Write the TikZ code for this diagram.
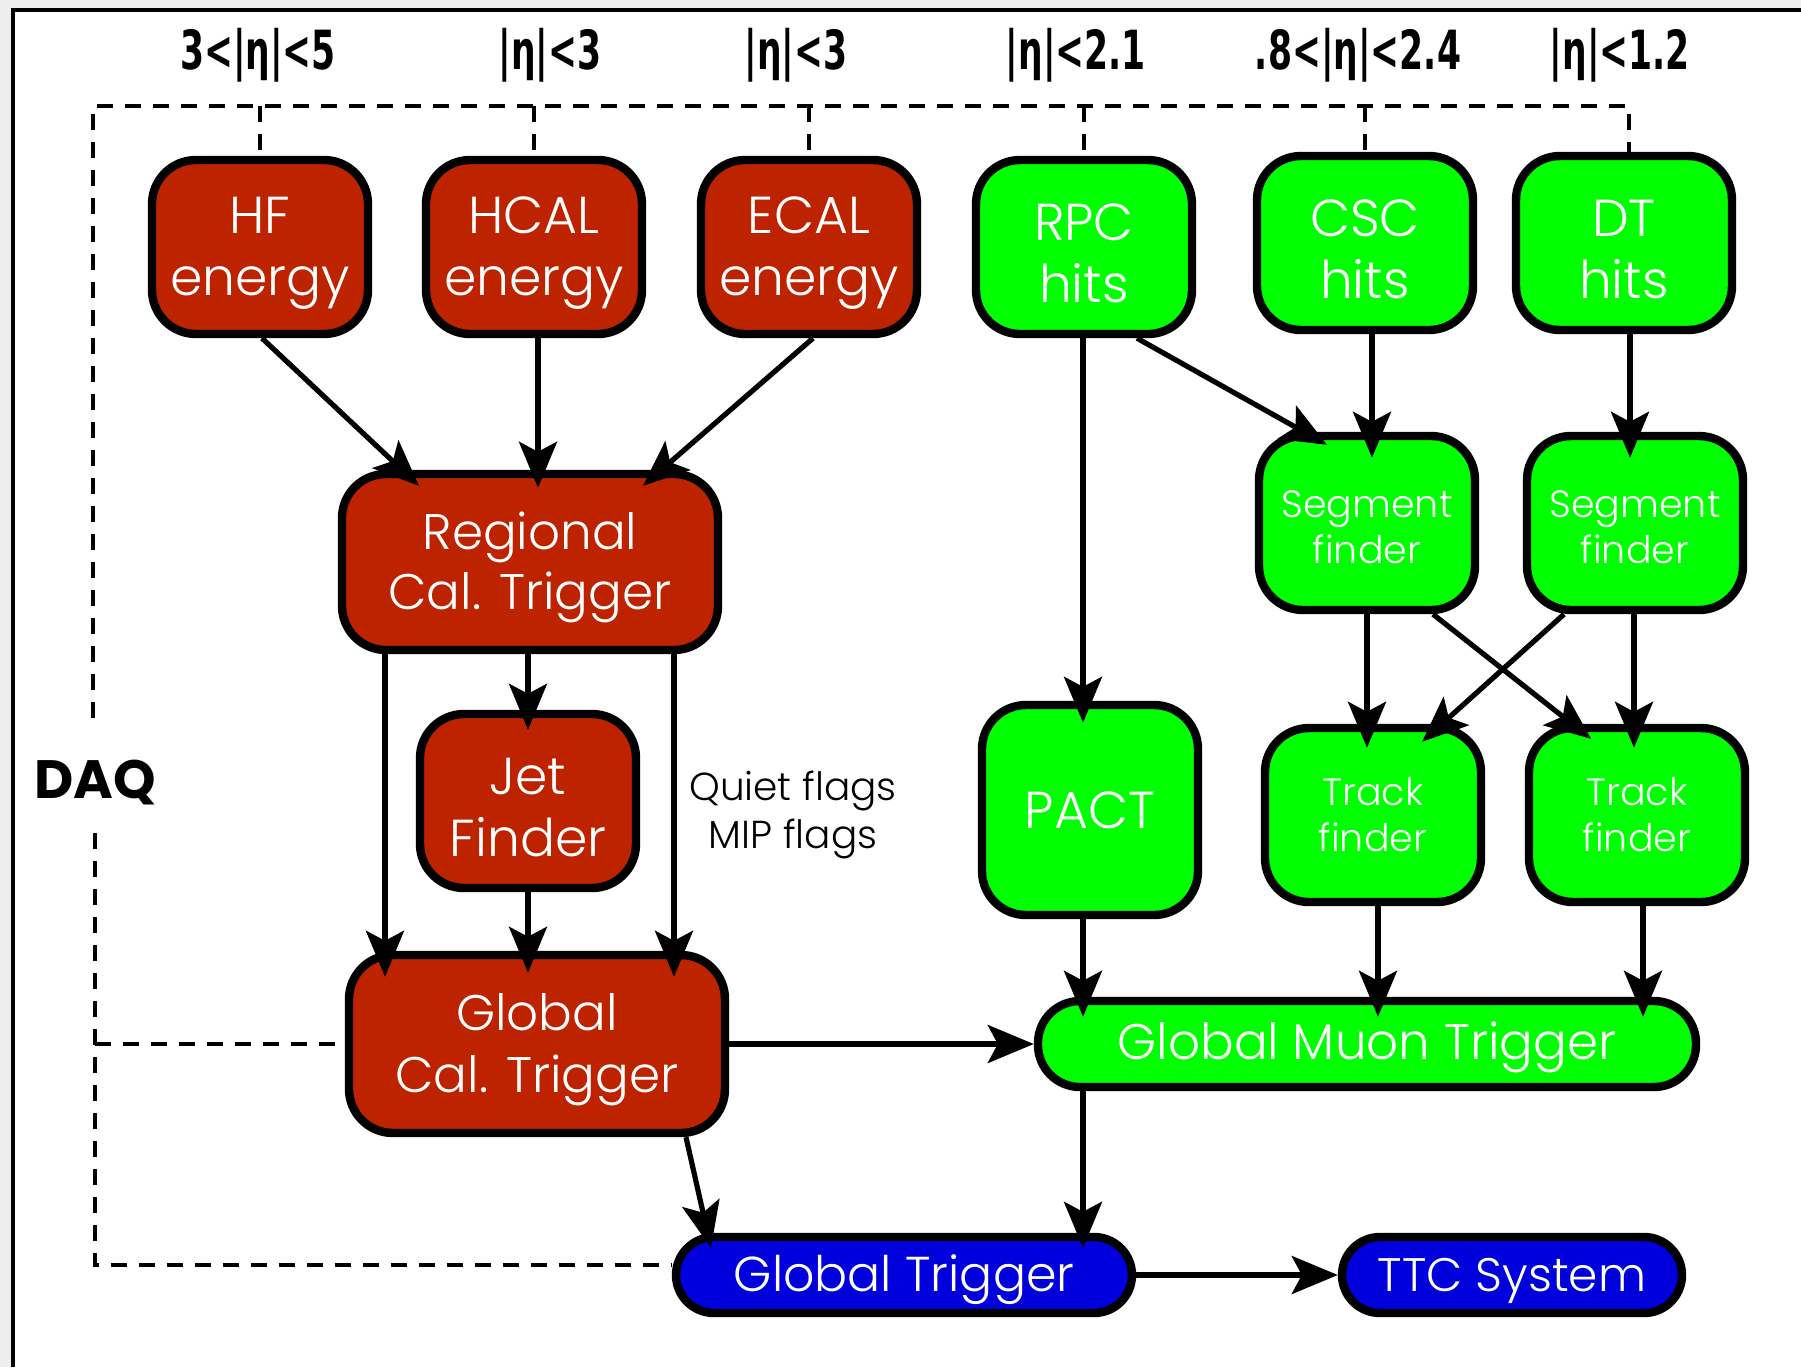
\documentclass[tikz,border=0pt]{standalone}
\usepackage{fontspec}
\usepackage{graphicx}
\IfFontExistsTF{Poppins Light}{\setmainfont{Poppins}[UprightFont=* Light, BoldFont=* Bold]}{\setmainfont{Poppins}}
\newfontfamily\lblfont{DejaVu Sans}
\usetikzlibrary{arrows.meta,calc}
\definecolor{boxred}{RGB}{190,35,0}
\definecolor{boxgreen}{RGB}{0,255,0}
\definecolor{boxblue}{RGB}{0,0,220}
\definecolor{edgegray}{RGB}{238,238,238}
\newcommand\myTopStrut{\rule{0pt}{0.95em}}
\begin{document}
\begin{tikzpicture}[x=0.5pt,y=-0.5pt,
 box/.style={draw=black, line width=4.2pt, rounded corners=22pt, text=white, inner sep=0pt, align=center},
 redbox/.style={box, fill=boxred},
 greenbox/.style={box, fill=boxgreen},
 bluebox/.style={box, fill=boxblue, rounded corners=19pt},
 bigtxt/.style={font=\fontsize{26}{31}\selectfont},
 smalltxt/.style={font=\fontsize{19}{23}\selectfont},
 sq/.style={minimum width=108pt, minimum height=87pt},
 arr/.style={line width=2.6pt, -{Stealth[length=23pt,width=19pt,inset=5pt]}},
 daq/.style={line width=2.2pt, dash pattern=on 8pt off 6pt},
 lbl/.style={font=\lblfont\bfseries\fontsize{27}{27}\selectfont, inner sep=0pt},
]
\useasboundingbox (0,0) rectangle (1801,1367);
\fill[edgegray] (0,0) rectangle (1801,1367);
\fill[white] (13,10) rectangle (1801,1367);
\draw[line width=2pt] (13,1367) -- (13,10) -- (1801,10);

% top labels
\node[lbl] (l1) at (258,55) {\scalebox{0.64}[1]{3<|η|<5}};
\node[lbl] (l2) at (550,55) {\scalebox{0.64}[1]{|η|<3}};
\node[lbl] (l3) at (796,55) {\scalebox{0.64}[1]{|η|<3}};
\node[lbl] (l4) at (1076,55) {\scalebox{0.64}[1]{|η|<2.1}};
\node[lbl] (l5) at (1358,55) {\scalebox{0.64}[1]{.8<|η|<2.4}};
\node[lbl] (l6) at (1620,55) {\scalebox{0.64}[1]{|η|<1.2}};

% row 1
\node[redbox,sq,bigtxt] (hf) at (260,247) {\myTopStrut HF\\energy};
\node[redbox,sq,bigtxt] (hcal) at (534,247) {\myTopStrut HCAL\\energy};
\node[redbox,sq,bigtxt] (ecal) at (809,247) {\myTopStrut ECAL\\energy};
\node[greenbox,sq,bigtxt] (rpc) at (1084,247) {\myTopStrut RPC\\hits};
\node[greenbox,sq,bigtxt] (csc) at (1365,243) {\myTopStrut CSC\\hits};
\node[greenbox,sq,bigtxt] (dt) at (1624,243) {\myTopStrut DT\\hits};

% calorimeter chain
\node[redbox,font=\fontsize{25}{30}\selectfont,minimum width=188pt,minimum height=88pt] (rct) at (530,562) {\myTopStrut Regional\\Cal. Trigger};
\node[redbox,sq,bigtxt] (jet) at (528,801) {\myTopStrut Jet\\Finder};
\node[redbox,font=\fontsize{25}{31}\selectfont,minimum width=188pt,minimum height=89pt] (gct) at (537,1044) {\myTopStrut Global\\Cal. Trigger};

% muon chain
\node[greenbox,font=\fontsize{26}{31}\selectfont,minimum width=108pt,minimum height=105pt] (pact) at (1090,810) {PACT};
\node[greenbox,sq,smalltxt] (seg1) at (1367,523) {\myTopStrut Segment\\finder};
\node[greenbox,sq,smalltxt] (seg2) at (1635,523) {\myTopStrut Segment\\finder};
\node[greenbox,sq,smalltxt] (trk1) at (1373,815) {Track\\finder};
\node[greenbox,sq,smalltxt] (trk2) at (1637,815) {Track\\finder};
\node[greenbox,rounded corners=21pt,font=\fontsize{25}{31}\selectfont,minimum width=329pt,minimum height=43pt] (gmt) at (1367,1044) {\rule{0pt}{0.88em}Global Muon Trigger};

% global
\node[bluebox,font=\fontsize{24.5}{31}\selectfont,minimum width=228pt,minimum height=38pt] (gt) at (904,1275) {\myTopStrut Global Trigger};
\node[bluebox,font=\fontsize{23.5}{31}\selectfont,minimum width=170pt,minimum height=38pt] (ttc) at (1512,1275) {\myTopStrut TTC System};

% texts
\node[font=\bfseries\fontsize{27}{30}\selectfont, inner sep=0pt] (daqlbl) at (95,783) {DAQ};
\node[font=\fontsize{19.5}{24}\selectfont, align=center, inner sep=0pt] (flags) at (793,815) {Quiet flags\\MIP flags};

% DAQ dashed lines
\coordinate (dtl) at (93,106);
\coordinate (dtr) at (1629,106);
\coordinate (dup) at (93,718);
\coordinate (dlo) at (95,833);
\coordinate (dbl) at (95,1265);
\draw[daq] (dup) -- (dtl) -- (dtr) -- (dtr |- dt.north);
\foreach \n in {hf,hcal,ecal,rpc,csc}{
  \draw[daq] (\n.north |- dtl) -- (\n.north);
}
\draw[daq] (dlo) -- (dbl) -- (dbl -| gt.west);
\draw[daq] (gct.west -| dbl) -- (gct.west);

% arrows
\draw[arr] ($(hf.south)+(2,0)$) -- ($(rct.north)+(-111,16)$);
\draw[arr] ($(hcal.south)+(4,0)$) -- ($(rct.north)+(8,18)$);
\draw[arr] ($(ecal.south)+(4,0)$) -- ($(rct.north)+(113,16)$);
\draw[arr] ($(rct.south)+(-145,0)$) -- ($(gct.north)+(-152,26)$);
\draw[arr] ($(rct.south)+(-2,0)$) -- ($(jet.north)+(0,20)$);
\draw[arr] ($(rct.south)+(144,0)$) -- ($(gct.north)+(137,26)$);
\draw[arr] (jet.south) -- ($(gct.north)+(-9,22)$);
\draw[arr] (gct.east) -- (gmt.west);
\draw[arr] ($(gct.south)+(149,0)$) -- ($(gt.north)+(-193,15)$);
\draw[arr] ($(gmt.south)+(-284,0)$) -- ($(gt.north)+(179,15)$);
\draw[arr] (gt.east) -- (ttc.west);
\draw[arr] ($(rpc.south)+(-1,0)$) -- ($(pact.north)+(-7,22)$);
\draw[arr] ($(rpc.south)+(53,0)$) -- ($(seg1.north)+(-40,13)$);
\draw[arr] ($(csc.south)+(7,0)$) -- ($(seg1.north)+(5,26)$);
\draw[arr] ($(dt.south)+(6,0)$) -- ($(seg2.north)+(-5,26)$);
\draw[arr] (seg1.south) -- ($(trk1.north)+(-6,24)$);
\draw[arr] ($(seg1.south)+(66,0)$) -- ($(trk2.north)+(-46,15)$);
\draw[arr] ($(seg2.south)+(-71,0)$) -- ($(trk1.north)+(49,18)$);
\draw[arr] ($(seg2.south)+(-1,0)$) -- ($(trk2.north)+(-3,24)$);
\draw[arr] ($(pact.south)+(-7,0)$) -- ($(gmt.north)+(-284,20)$);
\draw[arr] ($(trk1.south)+(5,0)$) -- ($(gmt.north)+(11,20)$);
\draw[arr] ($(trk2.south)+(6,0)$) -- ($(gmt.north)+(276,20)$);
\end{tikzpicture}
\end{document}
